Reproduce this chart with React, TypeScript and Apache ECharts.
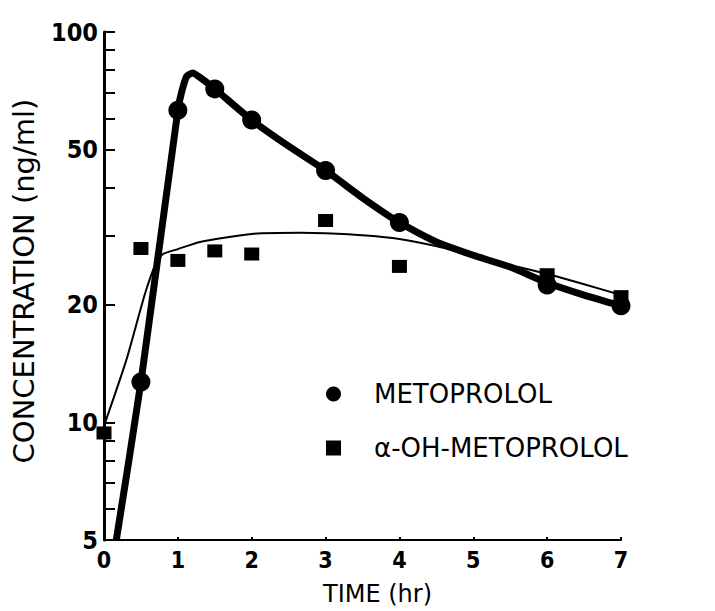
import React, { useEffect, useRef } from "react";
import * as echarts from "echarts";

// Measured data points
const metoTimes = [0.5, 1, 1.5, 2, 3, 4, 6, 7];
const metoConc = [12.7, 63, 71.5, 59.5, 44.2, 32.5, 22.5, 19.9];
const ohTimes = [0, 0.5, 1, 1.5, 2, 3, 4, 6, 7];
const ohConc = [9.4, 27.9, 26.0, 27.5, 27.0, 32.9, 25.1, 23.9, 21.0];

// Fitted curves
const metoFitTimes = [0.167, 0.5, 1.0, 1.05, 1.12, 1.2, 1.3, 1.5, 2, 2.5, 3, 3.5, 4, 4.5, 5, 5.5, 6, 6.5, 7];
const metoFitConc = [5, 12.7, 63, 70, 77, 78.5, 76.5, 71.5, 59.5, 51, 44.2, 37.6, 32.5, 29, 26.8, 25, 22.8, 21.2, 19.9];
const ohFitTimes = [0, 0.3, 0.55, 0.7, 0.8, 1.0, 1.3, 2.0, 2.65, 3.0, 3.55, 4.0, 4.46, 5.0, 5.5, 6.0, 6.5, 7.0];
const ohFitConc = [9.8, 14.4, 21.2, 25.5, 27, 27.8, 29, 30.4, 30.6, 30.5, 30.1, 29.5, 28.4, 26.8, 25.3, 24, 22.6, 21.2];

// Axis ticks
const yLabelValues = [5, 10, 20, 50, 100];
const yTickValues = [5, 6, 7, 8, 9, 10, 20, 30, 40, 50, 60, 70, 80, 90, 100];
const xLabelValues = [0, 1, 2, 3, 4, 5, 6, 7];

const seriesNames = ["METOPROLOL", "α-OH-METOPROLOL"];

const zip = (a: number[], b: number[]) => a.map((v, i) => [v, b[i]]);

export default function App() {
  const ref = useRef<HTMLDivElement>(null);
  useEffect(() => {
    if (!ref.current) return;
    const chart = echarts.init(ref.current, undefined, { renderer: "svg" });
    const axisFont = '"Liberation Sans Narrow", "DejaVu Sans Condensed", "Liberation Sans", sans-serif';
    const textFont = '"DejaVu Sans", "Liberation Sans", sans-serif';
    chart.setOption({
      animation: false,
      backgroundColor: "#ffffff",
      grid: { left: 104, right: 94, top: 32, bottom: 71, containLabel: false, outerBoundsMode: "none" },
      legend: {
        orient: "vertical",
        left: 321,
        top: 374,
        itemWidth: 15,
        itemHeight: 15,
        itemGap: 24,
        data: [
          { name: seriesNames[0], icon: "circle" },
          { name: seriesNames[1], icon: "rect" },
        ],
        textStyle: {
          color: "#000",
          fontFamily: textFont,
          fontSize: 26,
          lineHeight: 30,
          padding: [0, 0, 0, 28],
        },
      },
      xAxis: {
        type: "value",
        min: 0,
        max: 7,
        interval: 1,
        name: "TIME (hr)",
        nameLocation: "middle",
        nameGap: 42,
        nameTextStyle: { color: "#000", fontFamily: textFont, fontSize: 24, lineHeight: 24, padding: [0, 0, 0, 30] },
        axisLine: { show: true, lineStyle: { color: "#000", width: 2 } },
        axisTick: { show: true, inside: true, length: 3, lineStyle: { color: "#000", width: 2 } },
        axisLabel: {
          color: "#000",
          fontFamily: axisFont,
          fontWeight: "bold",
          fontSize: 23,
          margin: 8,
          customValues: xLabelValues,
        },
        splitLine: { show: false },
      },
      yAxis: {
        type: "log",
        logBase: 10,
        min: 5,
        max: 100,
        name: "CONCENTRATION (ng/ml)",
        nameLocation: "middle",
        nameGap: 66,
        nameTextStyle: { color: "#000", fontFamily: textFont, fontSize: 29, padding: [0, 0, 0, 10] },
        axisLine: { show: true, lineStyle: { color: "#000", width: 3 } },
        axisTick: {
          show: true,
          inside: true,
          length: 11,
          customValues: yTickValues,
          lineStyle: { color: "#000", width: 2 },
        },
        axisLabel: {
          color: "#000",
          fontFamily: axisFont,
          fontWeight: "bold",
          fontSize: 25,
          margin: 6,
          padding: [0, 0, 12, 0],
          customValues: yLabelValues,
          formatter: (v: number) => String(Math.round(v)),
        },
        splitLine: { show: false },
        minorTick: { show: false },
      },
      series: [
        {
          name: "metoFit",
          type: "line",
          data: zip(metoFitTimes, metoFitConc),
          showSymbol: false,
          symbol: "none",
          smooth: 0.2,
          lineStyle: { color: "#000", width: 7 },
          z: 2,
        },
        {
          name: "ohFit",
          type: "line",
          data: zip(ohFitTimes, ohFitConc),
          showSymbol: false,
          symbol: "none",
          smooth: 0.2,
          lineStyle: { color: "#000", width: 2 },
          z: 2,
        },
        {
          name: seriesNames[0],
          type: "scatter",
          data: zip(metoTimes, metoConc),
          symbol: "circle",
          symbolSize: 19,
          itemStyle: { color: "#000", opacity: 1 },
          z: 4,
        },
        {
          name: seriesNames[1],
          type: "scatter",
          data: zip(ohTimes, ohConc),
          symbol: "rect",
          symbolSize: [15, 13],
          itemStyle: { color: "#000", opacity: 1 },
          z: 4,
        },
      ],
    });
    return () => chart.dispose();
  }, []);
  return (
    <div
      ref={ref}
      style={{ position: "fixed", left: 0, top: 0, width: 715, height: 611, background: "#fff" }}
    />
  );
}
